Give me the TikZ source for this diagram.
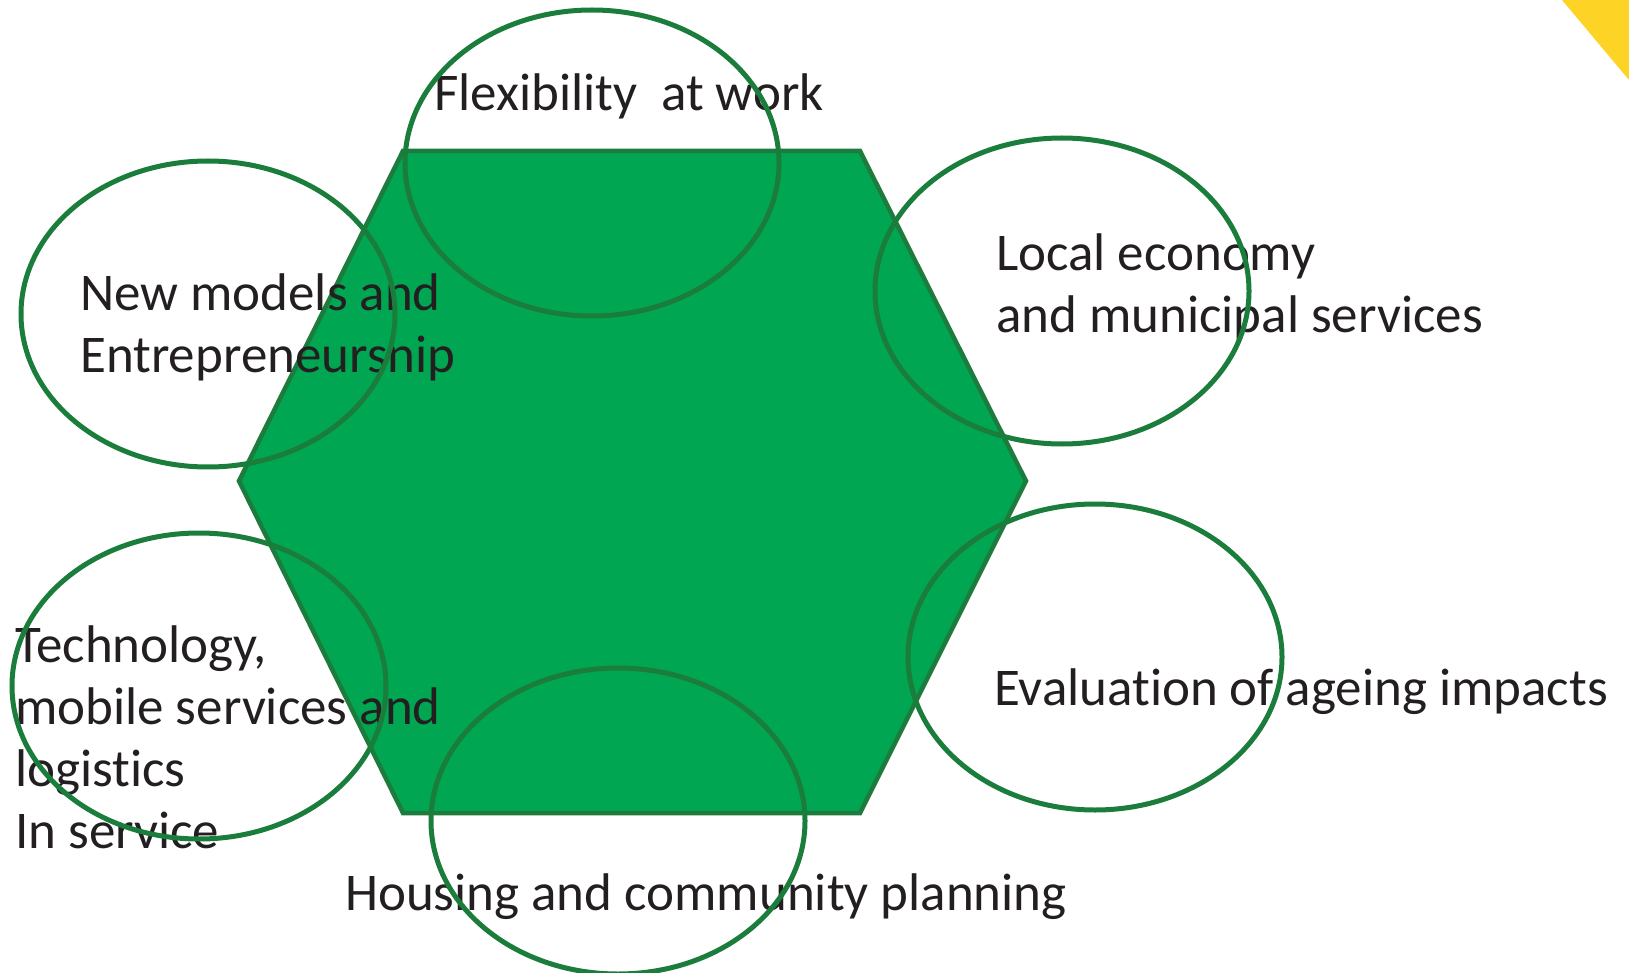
\documentclass[tikz,border=0pt]{standalone}
\usepackage{fontspec}
\setmainfont[Ligatures={NoCommon}]{Carlito}
\usetikzlibrary{shapes.geometric}
\definecolor{hexfill}{HTML}{00A651}
\definecolor{hexline}{HTML}{1E7B3E}
\definecolor{ringline}{HTML}{1A7D3C}
\definecolor{txt}{HTML}{231F20}
\definecolor{corner}{HTML}{FDD425}
\tikzset{
  ring/.style={ellipse, draw=ringline, line width=5pt, minimum width=374pt, minimum height=306pt, inner sep=0pt},
  label/.style={anchor=base west, inner sep=0pt, align=left, text=txt, font=\fontsize{53}{62}\selectfont},
}
\begin{document}
\begin{tikzpicture}[x=1pt,y=-1pt]
\useasboundingbox (0,0) rectangle (1629,973);
\fill[corner] (1562,0) -- (1629,0) -- (1629,80) -- cycle;
\draw[hexline, fill=hexfill, line width=4.5pt, line join=miter]
  (403,151) -- (860,151) -- (1026,481) -- (860,813) -- (403,813) -- (239,481) -- cycle;
\node[label] (flex) at (434,111) {Flexibility\ \ at work};
\node[label] (newm) at (80,372) {New models and\\Entrepreneursnip};
\node[label] (local) at (996,332) {Local economy\\and municipal services};
\node[label] (tech) at (15,848) {Technology,\\mobile services and\\logistics\\In service};
\node[label] (eval) at (994,705) {Evaluation of ageing impacts};
\node[label] (house) at (345,910) {Housing and community planning};
\node[ring] (r1) at (592,163) {};
\node[ring] (r2) at (208,314) {};
\node[ring] (r3) at (1062,291) {};
\node[ring] (r4) at (199,686) {};
\node[ring] (r5) at (1095,657) {};
\node[ring] (r6) at (618,821) {};
\end{tikzpicture}
\end{document}
